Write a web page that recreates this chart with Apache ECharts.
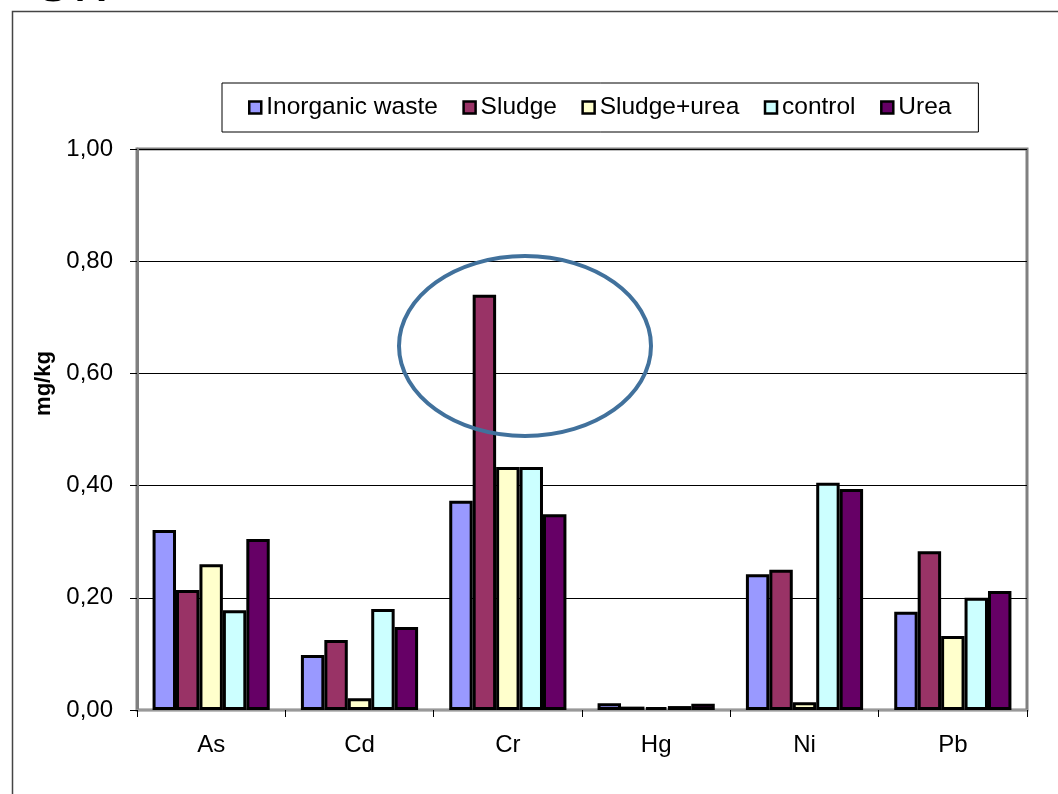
<!DOCTYPE html>
<html>
<head>
<meta charset="utf-8">
<script src="https://cdn.jsdelivr.net/npm/echarts@6/dist/echarts.min.js"></script>
<style>html,body{margin:0;padding:0;background:#fff;}#c{width:1058px;height:794px;}</style>
</head>
<body>
<div id="c"></div>
<script>
const categories = ['As', 'Cd', 'Cr', 'Hg', 'Ni', 'Pb'];
const inorganicWaste = [0.321, 0.098, 0.373, 0.012, 0.242, 0.175];
const sludge         = [0.214, 0.125, 0.740, 0.006, 0.250, 0.283];
const sludgeUrea     = [0.260, 0.021, 0.433, 0.005, 0.014, 0.132];
const control        = [0.178, 0.180, 0.433, 0.007, 0.405, 0.200];
const urea           = [0.305, 0.148, 0.349, 0.011, 0.394, 0.212];
const seriesNames = ['Inorganic waste', 'Sludge', 'Sludge+urea', 'control', 'Urea'];
const seriesColors = ['#9999FF', '#993366', '#FFFFCC', '#CCFFFF', '#660066'];
const seriesData = [inorganicWaste, sludge, sludgeUrea, control, urea];

const chart = echarts.init(document.getElementById('c'), null, {renderer: 'canvas'});
const font = '"Liberation Sans", Arial, sans-serif';

chart.setOption({
  animation: false,
  backgroundColor: '#fff',
  textStyle: {fontFamily: font},
  grid: {left: 137, right: 31, top: 149, bottom: 84, show: true, borderColor: '#808080', borderWidth: 3, backgroundColor: 'transparent'},
  legend: {
    left: 222, top: 83,
    padding: [12, 27, 12, 26],
    itemGap: 24.5,
    itemWidth: 12, itemHeight: 12,
    borderColor: '#000', borderWidth: 1,
    backgroundColor: '#fff',
    icon: 'rect',
    itemStyle: {borderColor: '#000', borderWidth: 2.5},
    textStyle: {fontSize: 24.5, color: '#000', fontFamily: font},
    data: seriesNames
  },
  xAxis: {
    type: 'category',
    data: categories,
    axisLine: {lineStyle: {color: '#999', width: 2}},
    axisTick: {show: true, length: 7, lineStyle: {color: '#000', width: 1}},
    axisLabel: {fontSize: 24, color: '#000', margin: 23, fontFamily: font},
    splitLine: {show: false}
  },
  yAxis: {
    type: 'value',
    min: 0, max: 1, interval: 0.2,
    name: 'mg/kg',
    nameLocation: 'middle',
    nameRotate: 90,
    nameGap: 69,
    nameTextStyle: {fontSize: 22, fontWeight: 'bold', color: '#000', fontFamily: font, padding: [0, 0, 0, 92]},
    axisLine: {show: true, lineStyle: {color: '#808080', width: 3}},
    axisTick: {show: true, length: 7, lineStyle: {color: '#000', width: 1}},
    axisLabel: {fontSize: 24, color: '#000', margin: 24, fontFamily: font,
      formatter: v => v.toFixed(2).replace('.', ',')},
    splitLine: {show: true, lineStyle: {color: '#000', width: 1}}
  },
  series: seriesData.map((d, i) => ({
    name: seriesNames[i],
    type: 'bar',
    data: d,
    barGap: '0%',
    barCategoryGap: '21%',
    itemStyle: {color: seriesColors[i], borderColor: '#000', borderWidth: 3}
  })),
  graphic: [
    {type: 'rect', left: 10, top: 9, z: -10, silent: true,
     shape: {x: 0, y: 0, width: 1200, height: 900},
     style: {fill: 'none', stroke: '#444', lineWidth: 1.5}},
    {type: 'text', left: 30, top: -46, z: 10, silent: true,
     style: {text: 'Cr:', fontSize: 60, fill: '#000', fontFamily: font}},
    {type: 'ellipse', z: 100, silent: true,
     shape: {cx: 525, cy: 346, rx: 126, ry: 90},
     style: {fill: 'none', stroke: '#41719C', lineWidth: 4}}
  ]
});
</script>
</body>
</html>
